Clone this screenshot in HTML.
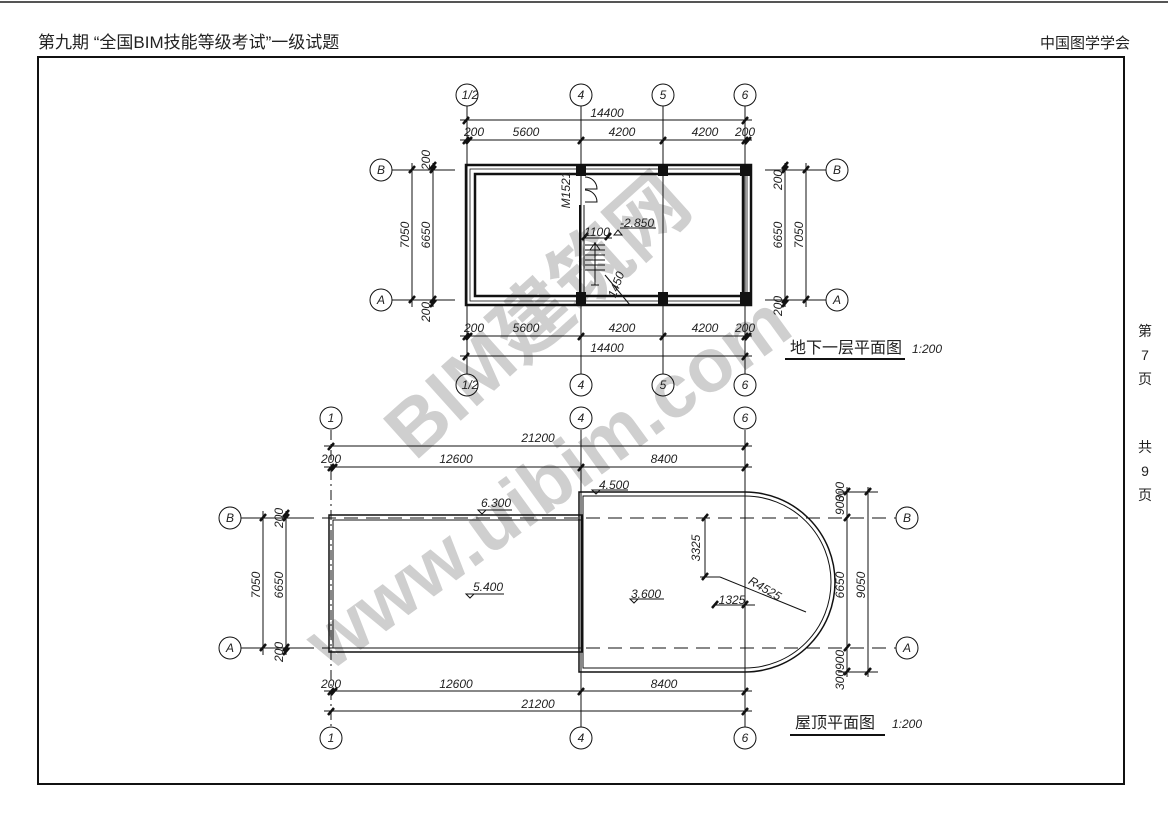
<!DOCTYPE html>
<html><head><meta charset="utf-8"><style>
html,body{margin:0;padding:0;background:#fff;}
svg{display:block;}
text{font-family:"Liberation Sans","Noto Sans CJK SC",sans-serif;fill:#222;}
.d{font-size:12px;font-style:italic;}
</style></head><body>
<svg width="1168" height="826" viewBox="0 0 1168 826" xmlns="http://www.w3.org/2000/svg">
<rect width="1168" height="826" fill="#fff"/>
<line x1="0" y1="2" x2="1168" y2="2" stroke="#555" stroke-width="2"/>
<text x="38" y="48" font-size="17" font-family="'Noto Serif CJK SC','Noto Sans CJK SC',serif">第九期 “全国BIM技能等级考试”一级试题</text>
<text x="1040" y="48" font-size="15" font-family="'Noto Serif CJK SC',serif">中国图学学会</text>
<rect x="38" y="57" width="1086" height="727" fill="none" stroke="#111" stroke-width="2"/>
<g font-size="14" font-family="'Noto Serif CJK SC',serif" text-anchor="middle"><text x="1145" y="336">第</text><text x="1145" y="360">7</text><text x="1145" y="384">页</text><text x="1145" y="452">共</text><text x="1145" y="476">9</text><text x="1145" y="500">页</text></g>

<!-- watermark -->
<g font-weight="bold">
<text x="0" y="0" font-size="78" transform="translate(415,462) rotate(-42)" style="fill:#cfcfcf">BIM建筑网</text>
<text x="0" y="0" font-size="76" transform="translate(330,672) rotate(-36)" style="fill:#cfcfcf">www.uibim.com</text>
</g>

<g stroke="#111" fill="none" stroke-width="1">
<line x1="467" y1="106" x2="467" y2="374"/><line x1="581" y1="106" x2="581" y2="374"/><line x1="663" y1="106" x2="663" y2="374"/><line x1="745" y1="106" x2="745" y2="374"/>
<circle cx="467" cy="95" r="11"/><circle cx="581" cy="95" r="11"/><circle cx="663" cy="95" r="11"/><circle cx="745" cy="95" r="11"/>
<circle cx="467" cy="385" r="11"/><circle cx="581" cy="385" r="11"/><circle cx="663" cy="385" r="11"/><circle cx="745" cy="385" r="11"/>
<line x1="460" y1="120" x2="752" y2="120"/><line x1="460" y1="140" x2="752" y2="140"/>
<line x1="460" y1="336" x2="752" y2="336"/><line x1="460" y1="356" x2="752" y2="356"/>
<line x1="392" y1="170" x2="455" y2="170"/><line x1="392" y1="300" x2="455" y2="300"/>
<circle cx="381" cy="170" r="11"/><circle cx="381" cy="300" r="11"/>
<line x1="412" y1="163" x2="412" y2="307"/><line x1="433" y1="163" x2="433" y2="307"/>
<line x1="765" y1="170" x2="826" y2="170"/><line x1="765" y1="300" x2="826" y2="300"/>
<circle cx="837" cy="170" r="11"/><circle cx="837" cy="300" r="11"/>
<line x1="785" y1="163" x2="785" y2="307"/><line x1="806" y1="163" x2="806" y2="307"/>
<rect x="466" y="165" width="285" height="140" stroke-width="2.5"/>
<rect x="470" y="169" width="277" height="132" stroke-width="0.8"/>
<rect x="475" y="174" width="268" height="122" stroke-width="2.5"/>
<line x1="580" y1="205" x2="580" y2="297" stroke-width="2"/><line x1="584" y1="205" x2="584" y2="297"/>
<path d="M585 177 A12 12 0 0 1 597 189 L585 189 M585 190 A12 12 0 0 1 597 202 L585 202"/>
<path d="M585 245 L605 245 M585 250 L605 250 M585 255 L605 255 M585 260 L605 260 M585 265 L605 265 M585 270 L605 270 M595 242 L595 275 M590 250 L595 243 L600 250 M595 275 L595 285 M591 285 L599 285"/>
<path d="M614 235 L618 230 L622 235 Z"/><line x1="620" y1="228" x2="656" y2="228"/>
<line x1="585" y1="238" x2="612" y2="238"/>
<line x1="605" y1="275" x2="630" y2="305"/>
</g>
<g fill="#111">
<rect x="576" y="165" width="10" height="11"/><rect x="658" y="165" width="10" height="11"/><rect x="740" y="165" width="11" height="11"/>
<rect x="576" y="292" width="10" height="13"/><rect x="658" y="292" width="10" height="13"/><rect x="740" y="292" width="11" height="13"/>
</g>
<g stroke="#111" stroke-width="2.5">
<path d="M463 124 l6 -7 M463 144 l6 -7 M466 144 l6 -7 M578 144 l6 -7 M660 144 l6 -7 M742 144 l6 -7 M745 144 l6 -7 M742 124 l6 -7
M463 340 l6 -7 M466 340 l6 -7 M578 340 l6 -7 M660 340 l6 -7 M742 340 l6 -7 M745 340 l6 -7 M463 360 l6 -7 M742 360 l6 -7
M409 173 l6 -7 M430 173 l6 -7 M430 169 l6 -7 M409 303 l6 -7 M430 303 l6 -7 M430 307 l6 -7
M782 173 l6 -7 M782 169 l6 -7 M803 173 l6 -7 M782 303 l6 -7 M782 307 l6 -7 M803 303 l6 -7
M582 240 l6 -7 M605 240 l6 -7"/>
</g>
<g class="d" text-anchor="middle">
<text x="470" y="99">1/2</text><text x="581" y="99">4</text><text x="663" y="99">5</text><text x="745" y="99">6</text>
<text x="470" y="389">1/2</text><text x="581" y="389">4</text><text x="663" y="389">5</text><text x="745" y="389">6</text>
<text x="381" y="174">B</text><text x="381" y="304">A</text><text x="837" y="174">B</text><text x="837" y="304">A</text>
<text x="607" y="117">14400</text>
<text x="474" y="136">200</text><text x="526" y="136">5600</text><text x="622" y="136">4200</text><text x="705" y="136">4200</text><text x="745" y="136">200</text>
<text x="474" y="332">200</text><text x="526" y="332">5600</text><text x="622" y="332">4200</text><text x="705" y="332">4200</text><text x="745" y="332">200</text>
<text x="607" y="352">14400</text>
<text x="637" y="227">-2.850</text><text x="597" y="236">1100</text>
<text transform="translate(409,235) rotate(-90)">7050</text><text transform="translate(430,235) rotate(-90)">6650</text>
<text transform="translate(782,235) rotate(-90)">6650</text><text transform="translate(803,235) rotate(-90)">7050</text>
<text transform="translate(430,160) rotate(-90)">200</text><text transform="translate(430,312) rotate(-90)">200</text>
<text transform="translate(782,180) rotate(-90)">200</text><text transform="translate(782,306) rotate(-90)">200</text>
<text transform="translate(570,190) rotate(-90)">M1521</text>
<text transform="translate(620,286) rotate(-70)">1450</text>
</g>
<text x="790" y="353" font-size="16" font-family="'Noto Sans CJK SC',sans-serif">地下一层平面图</text>
<text x="912" y="353" class="d">1:200</text>
<line x1="785" y1="359" x2="905" y2="359" stroke="#111" stroke-width="2"/>

<g stroke="#111" fill="none" stroke-width="1">
<line x1="331" y1="430" x2="331" y2="727" stroke-dasharray="10 4 2 4"/>
<line x1="581" y1="430" x2="581" y2="727"/><line x1="745" y1="430" x2="745" y2="727"/>
<circle cx="331" cy="418" r="11"/><circle cx="581" cy="418" r="11"/><circle cx="745" cy="418" r="11"/>
<circle cx="331" cy="738" r="11"/><circle cx="581" cy="738" r="11"/><circle cx="745" cy="738" r="11"/>
<line x1="324" y1="446" x2="752" y2="446"/><line x1="324" y1="467" x2="752" y2="467"/>
<line x1="324" y1="691" x2="752" y2="691"/><line x1="324" y1="711" x2="752" y2="711"/>
<circle cx="230" cy="518" r="11"/><circle cx="230" cy="648" r="11"/>
<circle cx="907" cy="518" r="11"/><circle cx="907" cy="648" r="11"/>
<line x1="241" y1="518" x2="300" y2="518"/><line x1="241" y1="648" x2="300" y2="648"/>
<line x1="300" y1="518" x2="896" y2="518" stroke-dasharray="14 8"/><line x1="300" y1="648" x2="896" y2="648" stroke-dasharray="14 8"/>
<line x1="263" y1="511" x2="263" y2="655"/><line x1="286" y1="511" x2="286" y2="655"/>
<line x1="847" y1="487" x2="847" y2="677"/><line x1="868" y1="487" x2="868" y2="677"/>
<line x1="838" y1="492" x2="878" y2="492"/><line x1="838" y1="672" x2="878" y2="672"/>
<rect x="329" y="515" width="253" height="137" stroke-width="1.5"/>
<rect x="333" y="520" width="248" height="128"/>
<path d="M579 672 L579 492 L745 492 A90 90 0 0 1 745 672 Z" stroke-width="1.5"/>
<path d="M583 668 L583 496 L745 496 A86 86 0 0 1 745 668 Z"/>
<line x1="705" y1="518" x2="705" y2="577"/><line x1="700" y1="577" x2="720" y2="577"/>
<line x1="720" y1="577" x2="806" y2="612"/>
<line x1="715" y1="605" x2="755" y2="605"/>
<path d="M596 494 l4 -4 l-8 0 Z M482 514 l4 -4 l-8 0 Z M470 598 l4 -4 l-8 0 Z M634 603 l4 -4 l-8 0 Z"/>
<line x1="596" y1="490" x2="628" y2="490"/><line x1="482" y1="510" x2="512" y2="510"/><line x1="474" y1="594" x2="504" y2="594"/><line x1="634" y1="599" x2="664" y2="599"/>
</g>
<g stroke="#111" stroke-width="2.5">
<path d="M328 450 l6 -7 M328 471 l6 -7 M331 471 l6 -7 M578 471 l6 -7 M742 471 l6 -7 M742 450 l6 -7
M328 695 l6 -7 M331 695 l6 -7 M578 695 l6 -7 M742 695 l6 -7 M328 715 l6 -7 M742 715 l6 -7
M260 521 l6 -7 M283 521 l6 -7 M283 517 l6 -7 M260 651 l6 -7 M283 651 l6 -7 M283 655 l6 -7
M844 495 l6 -7 M844 521 l6 -7 M844 651 l6 -7 M844 675 l6 -7 M865 495 l6 -7 M865 675 l6 -7
M702 521 l6 -7 M702 580 l6 -7 M712 608 l6 -7 M742 608 l6 -7"/>
</g>
<g class="d" text-anchor="middle">
<text x="331" y="422">1</text><text x="581" y="422">4</text><text x="745" y="422">6</text>
<text x="331" y="742">1</text><text x="581" y="742">4</text><text x="745" y="742">6</text>
<text x="230" y="522">B</text><text x="230" y="652">A</text><text x="907" y="522">B</text><text x="907" y="652">A</text>
<text x="538" y="442">21200</text>
<text x="331" y="463">200</text><text x="456" y="463">12600</text><text x="664" y="463">8400</text>
<text x="331" y="688">200</text><text x="456" y="688">12600</text><text x="664" y="688">8400</text>
<text x="538" y="708">21200</text>
<text x="614" y="489">4.500</text><text x="496" y="507">6.300</text><text x="488" y="591">5.400</text><text x="646" y="598">3.600</text>
<text x="732" y="604">1325</text>
<text transform="translate(763,592) rotate(30)">R4525</text>
<text transform="translate(700,548) rotate(-90)">3325</text>
<text transform="translate(260,585) rotate(-90)">7050</text><text transform="translate(283,585) rotate(-90)">6650</text>
<text transform="translate(844,585) rotate(-90)">6650</text><text transform="translate(865,585) rotate(-90)">9050</text>
<text transform="translate(283,518) rotate(-90)">200</text><text transform="translate(283,652) rotate(-90)">200</text>
<text transform="translate(844,492) rotate(-90)">300</text><text transform="translate(844,505) rotate(-90)">900</text>
<text transform="translate(844,660) rotate(-90)">900</text><text transform="translate(844,680) rotate(-90)">300</text>
</g>
<text x="795" y="728" font-size="16" font-family="'Noto Sans CJK SC',sans-serif">屋顶平面图</text>
<text x="892" y="728" class="d">1:200</text>
<line x1="790" y1="735" x2="885" y2="735" stroke="#111" stroke-width="2"/>
</svg>
</body></html>
